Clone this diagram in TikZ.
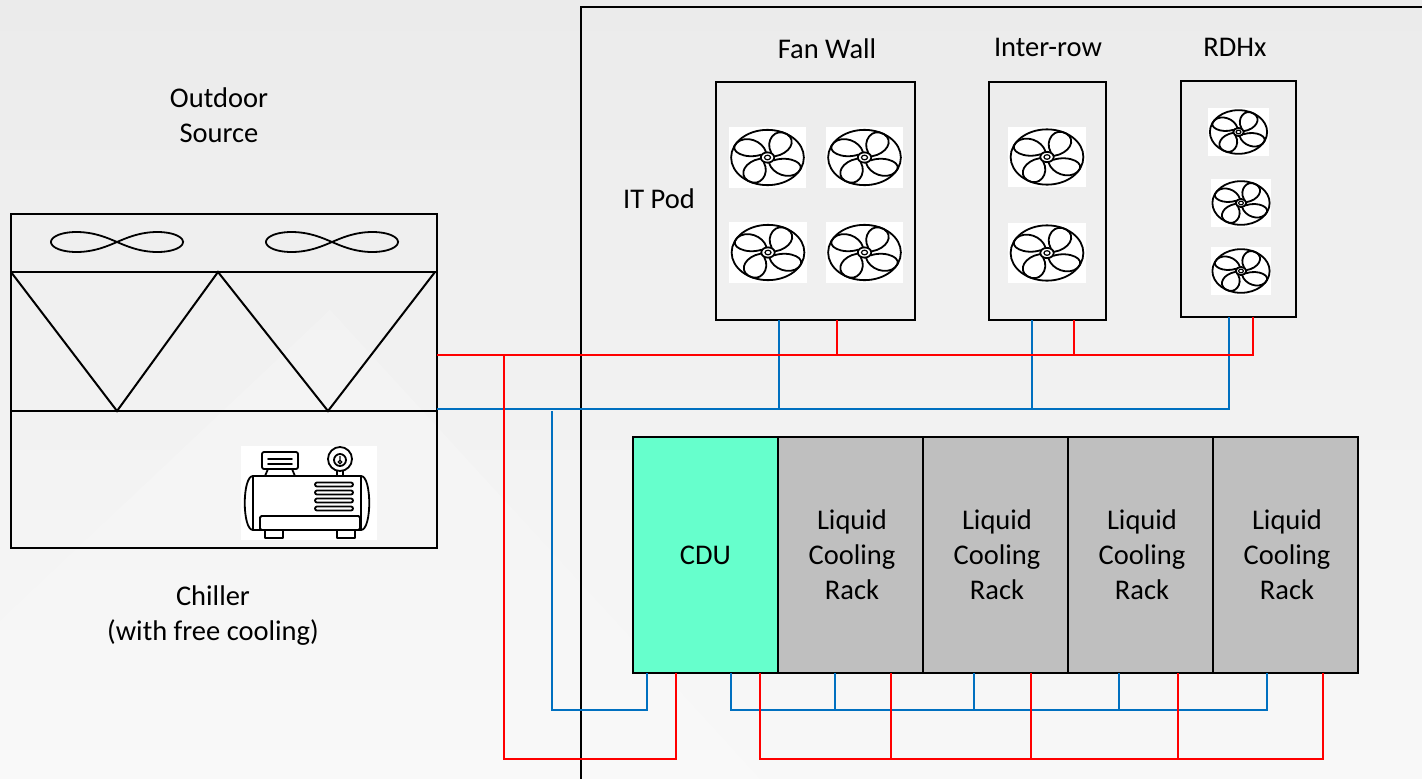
\documentclass[tikz,border=0pt]{standalone}
\usepackage{fontspec}
\setmainfont{Carlito}
\usetikzlibrary{calc}
\definecolor{hotred}{HTML}{FF0000}
\definecolor{coldblue}{HTML}{0070C0}
\definecolor{cduaqua}{HTML}{66FFCC}
\definecolor{rackgray}{HTML}{BFBFBF}
\definecolor{bgtop}{HTML}{EBEBEB}
\definecolor{bgbottom}{HTML}{F8F8F8}

\tikzset{
  label/.style={font=\fontsize{28.5}{35}\selectfont, align=center, inner sep=0pt},
  unitbox/.style={draw=black, line width=2pt, inner sep=0pt, outer sep=0pt},
  hot/.style={draw=hotred, line width=2.7pt},
  cold/.style={draw=coldblue, line width=2.7pt},
  iconline/.style={line width=1.8pt, line join=round, line cap=round},
  % propeller fan icon, drawn in a unit circle and stretched by the caller
  fanicon/.pic={
    \fill[white] (-1.03,-1.07) rectangle (1.03,1.07);
    \draw[iconline] (0,0) circle[radius=0.97];
    \foreach \a in {36,126,216,306}{
      \draw[iconline, rotate=\a]
        (0.18,-0.08) .. controls (0.28,-0.52) and (0.80,-0.74) .. (0.90,-0.36)
        .. controls (0.99,0.00) and (0.55,0.24) .. (0.18,0.08);
    }
    \fill[white] (0,0) circle[radius=0.18];
    \draw[iconline] (0,0) circle[radius=0.18];
    \draw[line width=1.2pt] (0,0) circle[radius=0.08];
  },
  % condenser fan seen from the side
  loopfan/.pic={
    \draw[line width=1.8pt] plot[domain=0:360, samples=120, smooth cycle]
      ({66*cos(\x)/(1+sin(\x)^2)}, {28.3*sin(\x)*cos(\x)/(1+sin(\x)^2)});
  },
  % compressor icon, origin at the top left of its white tile
  compressor/.pic={
    \fill[white] (0,0) rectangle (136,94);
    \draw[iconline, rounded corners=2pt] (21,6) rectangle (57,23);
    \draw[iconline] (27,13) -- (51,13) (27,18) -- (51,18);
    \draw[iconline] (27,23) -- (24,30) (51,23) -- (54,30);
    \draw[iconline] (99,13) circle[radius=12];
    \draw[iconline] (99,14) circle[radius=6];
    \draw[line width=1.2pt] (99,16) circle[radius=1.8] (99,14.2) -- (99,10);
    \draw[iconline] (96,25) -- (96,30) (102,25) -- (102,30);
    \draw[iconline] (12,30) -- (120,30)
      .. controls (131,30) and (131,84) .. (120,84) -- (12,84)
      .. controls (1,84) and (1,30) .. (12,30);
    \draw[iconline] (12,30) -- (12,84) (120,30) -- (120,84);
    \foreach \v in {38.5,46.5,54.5,62.5}{
      \draw[iconline, rounded corners=2pt] (74,\v-2) rectangle (112,\v+2);
    }
    \draw[iconline, rounded corners=1.5pt] (19,70) rectangle (119,84);
    \draw[iconline] (24,84) rectangle (42,92) (96,84) rectangle (114,92);
  }
}

\begin{document}
\begin{tikzpicture}[x=1pt, y=-1pt]
  \useasboundingbox (0,0) rectangle (1422,779);
  % backdrop
  \shade[top color=bgtop, bottom color=bgbottom] (0,0) rectangle (1422,779);
  \fill[white, opacity=0.18] (0,621) -- (330,310) -- (760,779) -- (0,779) -- cycle;

  % ---------------- outdoor chiller ----------------
  \node[label] (outdoor) at (219,115) {Outdoor\\Source};
  \node[unitbox, minimum width=426pt, minimum height=334pt] (chiller) at (224,381) {};
  \coordinate (coilT) at ($(chiller.north west)+(0,58)$);
  \coordinate (coilB) at ($(chiller.north west)+(0,197)$);
  \draw[line width=2.8pt] (coilT) -- (coilT -| chiller.east);
  \draw[line width=2.2pt] (coilB) -- (coilB -| chiller.east);
  \draw[line width=2pt, line join=miter]
    (coilT) -- ($(coilB)+(106,0)$) -- ($(coilT)+(207,0)$)
    -- ($(coilB)+(317,0)$) -- ($(coilT)+(424,0)$);
  \pic at (117,242) {loopfan};
  \pic at (332,242) {loopfan};
  \pic at (241,446) {compressor};
  \node[label] (chillerlabel) at (213,616) {Chiller\\(with free cooling)};

  % ---------------- IT pod enclosure ----------------
  \begin{scope}
    \clip (0,0) rectangle (1422,779);
    \node[unitbox, minimum width=900pt, minimum height=820pt, anchor=north west] (itpod) at (581,7) {};
  \end{scope}
  \node[label] (itpodlabel) at (659,199) {IT Pod};

  % ---------------- air-side units ----------------
  \node[unitbox, minimum width=199pt, minimum height=238pt] (fw) at (815.5,201) {};
  \node[label] (fwlabel) at (827,49) {Fan Wall};
  \node[unitbox, minimum width=117pt, minimum height=238pt] (ir) at (1047.5,201) {};
  \node[label] (irlabel) at (1048,47) {Inter-row};
  \node[unitbox, minimum width=115pt, minimum height=236pt] (rdhx) at (1238.5,199) {};
  \node[label] (rdhxlabel) at (1235,47) {RDHx};

  \foreach \cx/\cy in {767.5/157.5, 864.5/157.5, 768/252.5, 864.5/252.5,
                       1047/157, 1047/253}{
    \pic[xscale=37.5, yscale=28.5] at (\cx,\cy) {fanicon};
  }
  \foreach \cx/\cy in {1238.5/132, 1241/203, 1241/271}{
    \pic[xscale=29.5, yscale=22.5] at (\cx,\cy) {fanicon};
  }

  % ---------------- liquid-cooled row ----------------
  \node[unitbox, fill=cduaqua, minimum width=145pt, minimum height=236pt] (cdu) at (705.5,555) {};
  \node[label] at (cdu.center) {CDU};
  \foreach \n/\cx in {r1/850.5, r2/995.5, r3/1140.5, r4/1285.5}{
    \node[unitbox, fill=rackgray, minimum width=145pt, minimum height=236pt] (\n) at (\cx,555) {};
    \node[label] at ($(\n.center)+(1.5,0)$) {Liquid\\Cooling\\Rack};
  }

  % ---------------- pipe runs ----------------
  \coordinate (hotbus)  at (0,355);
  \coordinate (coldbus) at (0,409);
  \coordinate (secbus)  at (0,710);
  \coordinate (retbus)  at (0,759);
  \coordinate (facH) at (504,355);
  \coordinate (facC) at (552,411);

  \coordinate (fwC) at ($(fw.south)+(-36.5,0)$);
  \coordinate (fwH) at ($(fw.south)+(21.5,0)$);
  \coordinate (irC) at ($(ir.south)+(-15.5,0)$);
  \coordinate (irH) at ($(ir.south)+(26.5,0)$);
  \coordinate (rdC) at ($(rdhx.south)+(-9.5,0)$);
  \coordinate (rdH) at ($(rdhx.south)+(14.5,0)$);

  \coordinate (cduCin)  at ($(cdu.south)+(-58.5,0)$);
  \coordinate (cduHin)  at ($(cdu.south)+(-29.5,0)$);
  \coordinate (cduCout) at ($(cdu.south)+(25.5,0)$);
  \coordinate (cduHout) at ($(cdu.south)+(54.5,0)$);
  \coordinate (r1C) at ($(r1.south)+(-15.5,0)$);
  \coordinate (r1H) at ($(r1.south)+(40.5,0)$);
  \coordinate (r2C) at ($(r2.south)+(-21.5,0)$);
  \coordinate (r2H) at ($(r2.south)+(35.5,0)$);
  \coordinate (r3C) at ($(r3.south)+(-21.5,0)$);
  \coordinate (r3H) at ($(r3.south)+(37.5,0)$);
  \coordinate (r4C) at ($(r4.south)+(-18.5,0)$);
  \coordinate (r4H) at ($(r4.south)+(37.5,0)$);

  % facility water to the air-side units
  \draw[cold] (chiller.east |- coldbus) -- (rdC |- coldbus) -- (rdC);
  \draw[cold] (fwC) -- (fwC |- coldbus);
  \draw[cold] (irC) -- (irC |- coldbus);
  \draw[hot] (chiller.east |- hotbus) -- (rdH |- hotbus) -- (rdH);
  \draw[hot] (fwH) -- (fwH |- hotbus);
  \draw[hot] (irH) -- (irH |- hotbus);

  % facility water to the CDU
  \draw[cold] (facC) -- (facC |- secbus) -- (cduCin |- secbus) -- (cduCin);
  \draw[hot] (facH) -- (facH |- retbus) -- (cduHin |- retbus) -- (cduHin);

  % secondary loop to the racks
  \draw[cold] (cduCout) -- (cduCout |- secbus) -- (r4C |- secbus) -- (r4C);
  \foreach \p in {r1C, r2C, r3C}{ \draw[cold] (\p) -- (\p |- secbus); }
  \draw[hot] (cduHout) -- (cduHout |- retbus) -- (r4H |- retbus) -- (r4H);
  \foreach \p in {r1H, r2H, r3H}{ \draw[hot] (\p) -- (\p |- retbus); }
\end{tikzpicture}
\end{document}
